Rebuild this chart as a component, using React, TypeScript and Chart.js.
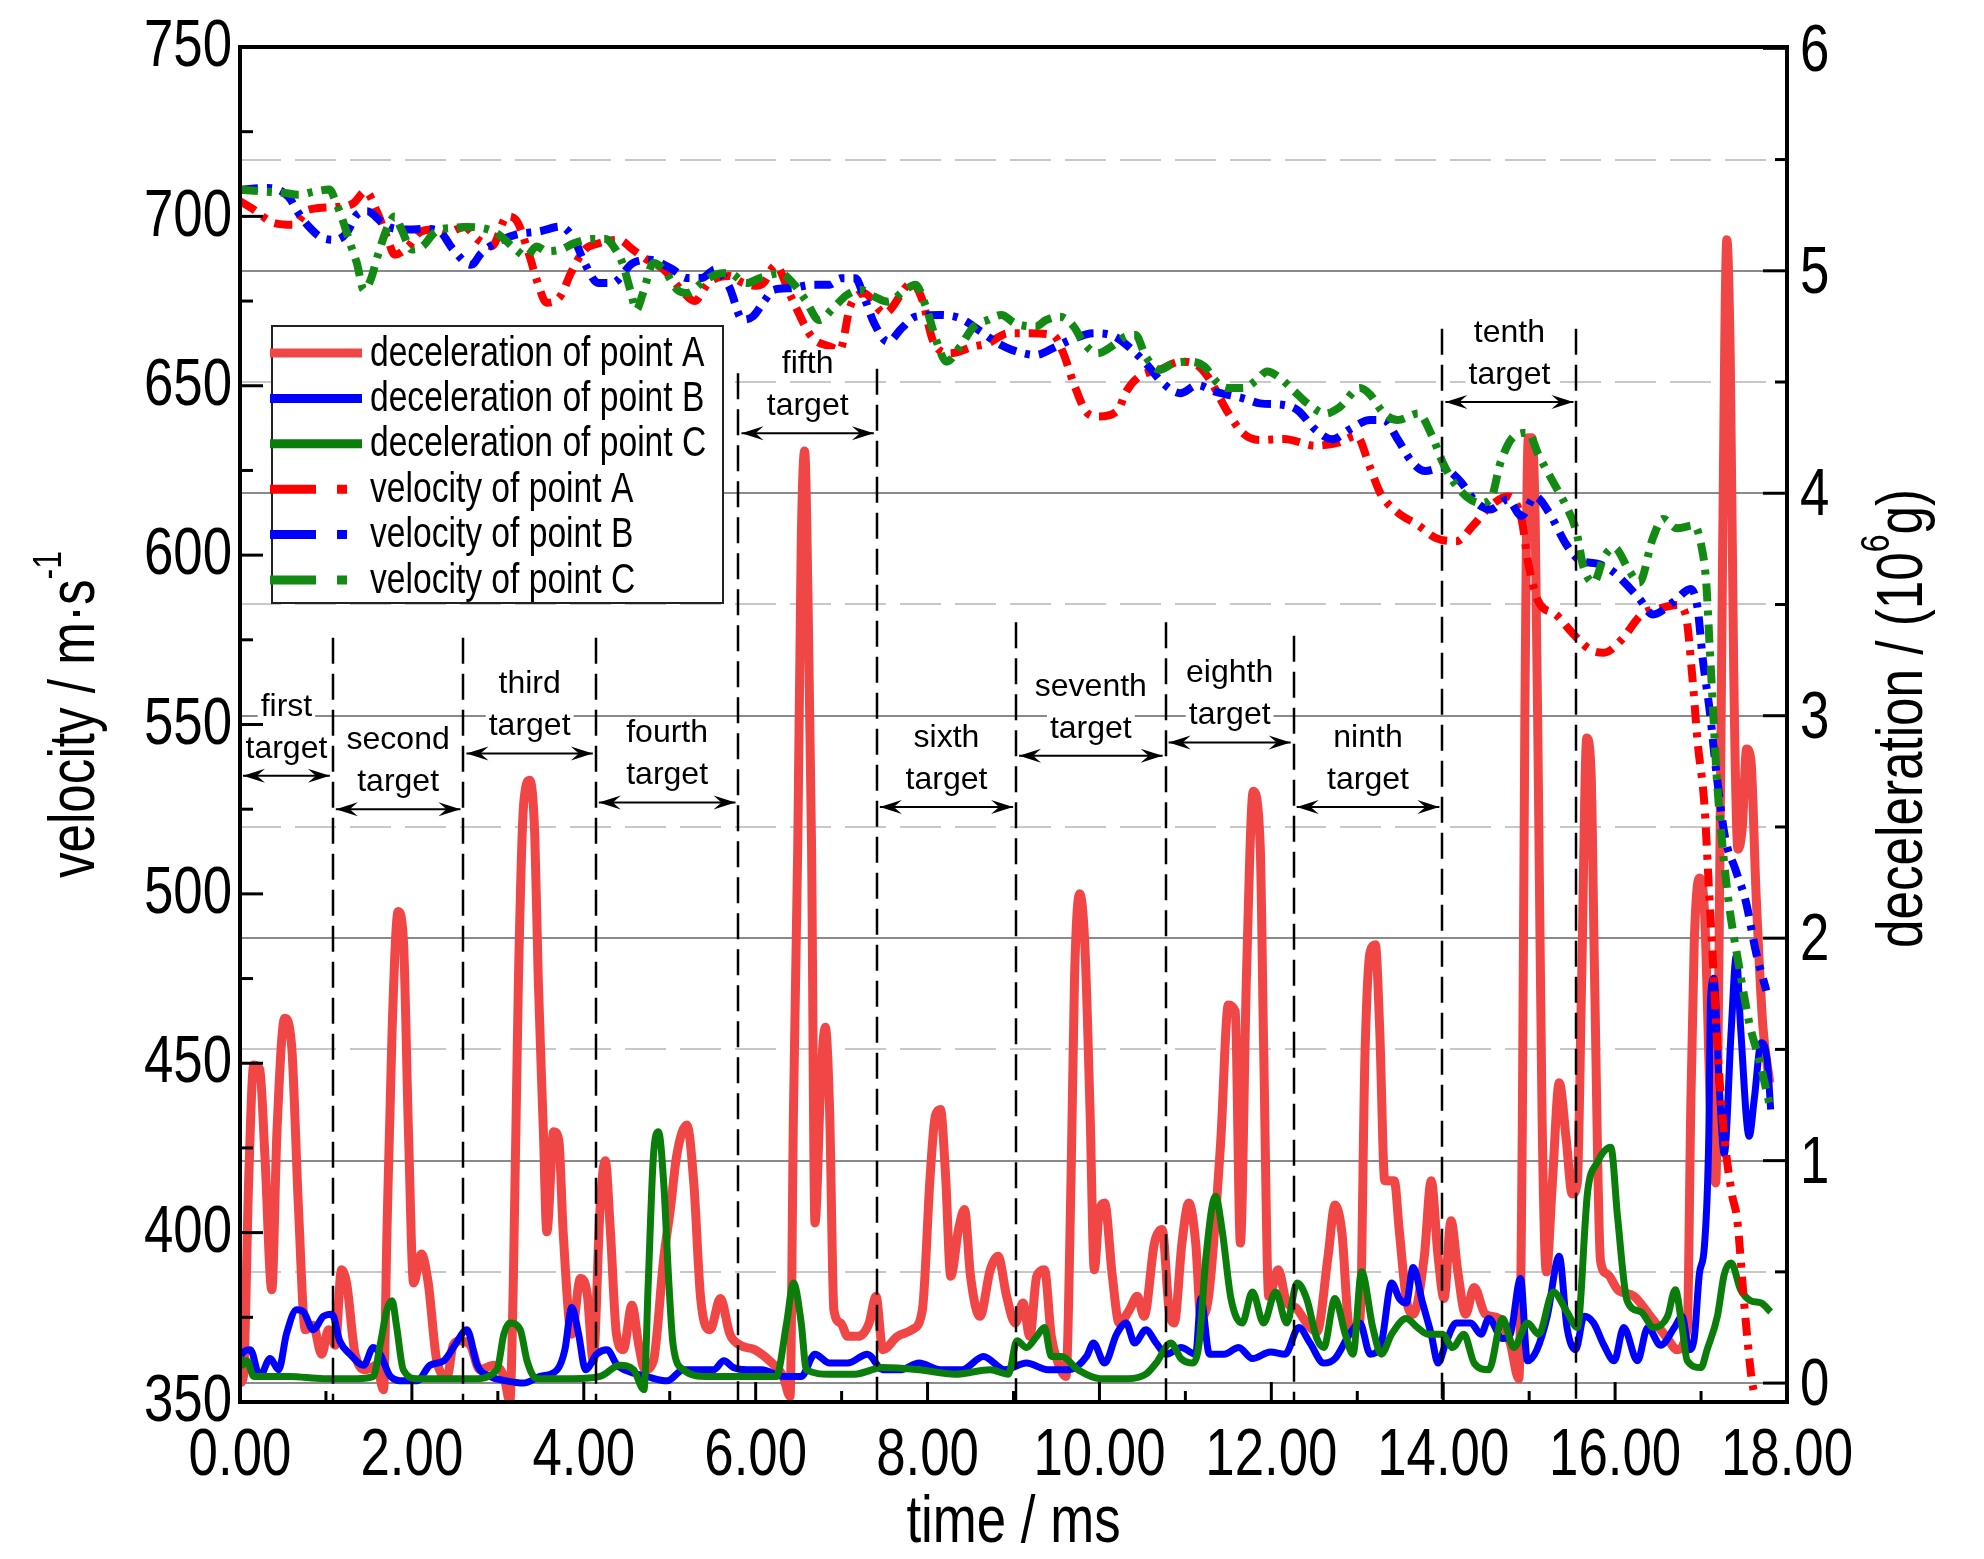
import React, { useEffect, useRef } from 'react';
import { Chart, registerables } from 'chart.js';

Chart.register(...registerables);

// axis ticks
const TIME_TICKS = [0, 2, 4, 6, 8, 10, 12, 14, 16, 18];
const TIME_MINOR = [1, 3, 5, 7, 9, 11, 13, 15, 17];
const VEL_TICKS = [350, 400, 450, 500, 550, 600, 650, 700, 750];
const VEL_MINOR = [375, 425, 475, 525, 575, 625, 675, 725];
const DEC_TICKS = [0, 1, 2, 3, 4, 5, 6];
const DEC_HALF = [0.5, 1.5, 2.5, 3.5, 4.5, 5.5];

const SERIES_LABELS = [
  'deceleration of point A',
  'deceleration of point B',
  'deceleration of point C',
  'velocity of point A',
  'velocity of point B',
  'velocity of point C',
];

// targets: edges in ms, top of each dashed edge line and arrow level (10^6 g axis)
const TARGET_NAMES = ['first', 'second', 'third', 'fourth', 'fifth', 'sixth', 'seventh', 'eighth', 'ninth', 'tenth'];
const TARGET_EDGES = [0, 1.08, 2.6, 4.14, 5.8, 7.41, 9.03, 10.77, 12.26, 13.99, 15.55];
const EDGE_TOPS = [3.35, 3.35, 3.35, 4.54, 4.56, 3.42, 3.42, 3.36, 4.74, 4.74];
const ARROW_LEVELS = [2.73, 2.58, 2.83, 2.61, 4.27, 2.59, 2.82, 2.88, 2.59, 4.41];

// velocity, m/s  [time ms, value]
const VEL_A = [
  [0, 704.5], [0.16, 702.0], [0.4, 698.0], [0.62, 697.5], [0.8, 702.0], [1.2, 702.9], [1.32, 703.9], [1.46, 707.4],
  [1.6, 701.0], [1.72, 693.1], [1.8, 688.7], [1.96, 691.2], [2.08, 695.1], [2.24, 696.1], [2.4, 695.1], [2.61, 696.9],
  [2.77, 693.1], [2.93, 691.2], [3.11, 700.0], [3.21, 699.0], [3.37, 688.2], [3.45, 681.4], [3.57, 674.5], [3.73, 676.5],
  [3.85, 683.3], [4.01, 690.2], [4.13, 691.7], [4.41, 693.1], [4.57, 690.2], [4.73, 687.3], [4.93, 684.3], [5.13, 678.4],
  [5.29, 675.0], [5.45, 680.4], [5.69, 682.4], [5.85, 680.4], [6.01, 679.5], [6.09, 680.3], [6.23, 685.5], [6.41, 676.3],
  [6.65, 664.5], [6.86, 661.6], [6.98, 660.6], [7.1, 673.4], [7.26, 677.3], [7.5, 671.4], [7.82, 680.3], [7.94, 675.3],
  [8.06, 663.5], [8.26, 659.6], [8.54, 661.6], [8.7, 662.5], [8.94, 665.5], [9.18, 665.5], [9.46, 665.0], [9.58, 659.6],
  [9.7, 650.7], [9.86, 641.9], [9.98, 640.9], [10.22, 642.9], [10.3, 647.8], [10.46, 652.7], [10.7, 654.7], [10.94, 657.1],
  [11.1, 656.6], [11.26, 652.7], [11.5, 641.9], [11.67, 636.0], [11.87, 634.0], [12.15, 634.3], [12.51, 632.3], [12.79, 633.3],
  [12.99, 635.2], [13.15, 625.8], [13.27, 618.2], [13.47, 612.6], [13.71, 608.8], [13.91, 605.1], [14.15, 604.1], [14.35, 608.8],
  [14.55, 614.5], [14.75, 617.3], [14.91, 610.7], [14.99, 597.5], [15.11, 586.2], [15.31, 582.5], [15.51, 576.8], [15.71, 572.1],
  [15.87, 571.2], [16.07, 574.9], [16.31, 582.5], [16.52, 584.3], [16.72, 585.3], [16.82, 582.5], [16.9, 563.6], [16.96, 544.8],
  [17.04, 526.0], [17.08, 507.2], [17.14, 478.9], [17.2, 450.7], [17.28, 426.2], [17.36, 411.2], [17.42, 403.9], [17.5, 379.6],
  [17.58, 358.5], [17.62, 352.0],
];

const VEL_B = [
  [0, 707.9], [0.32, 708.4], [0.56, 705.9], [0.68, 701.0], [0.8, 697.0], [0.96, 693.6], [1.12, 693.1], [1.24, 695.1],
  [1.36, 700.5], [1.48, 701.5], [1.64, 698.5], [1.76, 696.6], [1.96, 696.1], [2.16, 696.3], [2.32, 695.6], [2.48, 690.2],
  [2.69, 685.7], [2.81, 689.2], [2.97, 692.1], [3.21, 694.6], [3.49, 695.6], [3.73, 697.0], [3.89, 693.1], [4.01, 686.2],
  [4.17, 680.3], [4.33, 680.3], [4.57, 686.2], [4.77, 687.2], [5.01, 684.7], [5.21, 681.8], [5.37, 681.8], [5.53, 684.3],
  [5.69, 679.3], [5.85, 669.5], [5.97, 670.5], [6.1, 675.0], [6.21, 678.3], [6.41, 678.8], [6.65, 679.8], [6.86, 679.8],
  [6.99, 681.7], [7.16, 681.7], [7.26, 676.3], [7.38, 668.4], [7.54, 663.0], [7.7, 667.0], [7.86, 670.4], [8.14, 670.9],
  [8.38, 669.9], [8.62, 666.0], [8.82, 662.5], [8.98, 660.6], [9.26, 659.1], [9.46, 661.1], [9.66, 663.5], [9.94, 665.5],
  [10.18, 664.5], [10.38, 660.6], [10.54, 656.6], [10.74, 650.7], [10.94, 647.8], [11.14, 650.2], [11.34, 648.3], [11.67, 646.3],
  [11.87, 644.8], [12.15, 644.3], [12.31, 642.7], [12.51, 637.1], [12.71, 634.2], [12.91, 637.1], [13.15, 639.9], [13.31, 639.9],
  [13.47, 634.2], [13.63, 627.7], [13.79, 624.8], [13.99, 625.8], [14.19, 622.0], [14.39, 615.4], [14.55, 613.5], [14.75, 616.4],
  [14.91, 611.6], [15.07, 617.3], [15.23, 612.6], [15.43, 603.2], [15.59, 598.5], [15.79, 597.5], [15.95, 595.6], [16.11, 591.9],
  [16.28, 587.2], [16.44, 582.5], [16.68, 586.2], [16.88, 590.0], [16.96, 584.3], [17.02, 569.3], [17.1, 554.2], [17.18, 535.4],
  [17.28, 516.6], [17.4, 507.2], [17.52, 497.8], [17.64, 482.7], [17.76, 471.4],
];

const VEL_C = [
  [0, 707.9], [0.24, 707.4], [0.52, 706.9], [0.68, 706.4], [0.88, 707.4], [1.04, 707.9], [1.12, 703.9], [1.2, 698.5],
  [1.28, 692.1], [1.36, 686.2], [1.44, 678.3], [1.52, 681.3], [1.6, 688.2], [1.72, 697.0], [1.8, 700.0], [1.88, 696.1],
  [2.0, 690.2], [2.12, 691.1], [2.28, 695.6], [2.48, 696.6], [2.65, 696.9], [2.89, 696.1], [3.01, 694.6], [3.21, 690.2],
  [3.33, 688.2], [3.45, 691.1], [3.57, 689.7], [3.73, 690.2], [3.89, 692.1], [4.09, 693.3], [4.25, 693.3], [4.37, 690.2],
  [4.45, 686.2], [4.55, 677.4], [4.61, 672.4], [4.69, 677.4], [4.81, 686.2], [4.93, 684.3], [5.09, 678.3], [5.21, 677.4],
  [5.37, 680.3], [5.53, 682.8], [5.69, 683.3], [5.89, 680.3], [6.05, 681.8], [6.29, 683.2], [6.45, 679.8], [6.58, 675.3],
  [6.74, 669.4], [6.9, 672.9], [7.06, 676.8], [7.22, 678.3], [7.38, 676.3], [7.54, 674.8], [7.74, 678.3], [7.86, 679.8],
  [7.98, 673.4], [8.1, 663.5], [8.22, 657.1], [8.38, 661.6], [8.54, 667.5], [8.7, 669.4], [8.86, 670.9], [9.02, 668.4],
  [9.26, 667.5], [9.38, 669.4], [9.54, 670.4], [9.7, 667.5], [9.82, 662.5], [9.98, 659.6], [10.14, 661.6], [10.3, 664.5],
  [10.42, 665.0], [10.54, 658.6], [10.7, 654.7], [10.86, 656.6], [11.06, 657.1], [11.22, 655.7], [11.38, 650.7], [11.5, 649.3],
  [11.67, 649.3], [11.83, 651.7], [11.95, 654.2], [12.11, 652.1], [12.27, 648.3], [12.43, 644.6], [12.63, 641.8], [12.79, 643.6],
  [13.03, 649.3], [13.15, 647.4], [13.31, 641.8], [13.47, 639.9], [13.71, 641.8], [13.87, 635.2], [13.99, 627.6], [14.11, 622.0],
  [14.27, 617.3], [14.43, 615.4], [14.55, 616.4], [14.67, 627.6], [14.83, 635.2], [14.99, 636.1], [15.11, 629.5], [15.27, 622.0],
  [15.43, 614.5], [15.55, 606.9], [15.63, 596.6], [15.75, 591.9], [15.87, 599.4], [15.99, 602.2], [16.16, 595.6], [16.28, 591.9],
  [16.44, 605.1], [16.56, 610.7], [16.72, 607.9], [16.92, 608.8], [17.0, 603.2], [17.06, 591.9], [17.1, 573.1], [17.14, 554.2],
  [17.18, 535.4], [17.24, 516.6], [17.32, 497.8], [17.44, 478.9], [17.56, 462.0], [17.68, 450.7], [17.8, 437.5],
];

// deceleration, 10^6 g  [time ms, value]
const DEC_A = [
  [0, 0.0], [0.04, 0.03], [0.1, 0.9], [0.16, 1.43], [0.23, 1.41], [0.29, 1.02], [0.37, 0.42], [0.43, 1.13], [0.52, 1.64],
  [0.6, 1.52], [0.68, 0.79], [0.76, 0.24], [0.85, 0.26], [0.95, 0.13], [1.03, 0.24], [1.11, 0.17], [1.18, 0.51], [1.24, 0.45],
  [1.34, 0.13], [1.47, 0.06], [1.59, 0.08], [1.67, -0.03], [1.71, 0.68], [1.77, 1.59], [1.84, 2.12], [1.9, 2.0], [1.96, 1.13],
  [2.02, 0.45], [2.11, 0.58], [2.19, 0.45], [2.29, 0.1], [2.41, 0.03], [2.48, 0.17], [2.56, 0.19], [2.68, 0.17], [2.79, 0.06],
  [2.95, 0.08], [3.07, 0.03], [3.14, -0.08], [3.18, 0.45], [3.24, 1.82], [3.3, 2.6], [3.37, 2.71], [3.43, 2.46], [3.47, 1.82],
  [3.53, 1.13], [3.57, 0.68], [3.65, 1.13], [3.71, 1.09], [3.76, 0.68], [3.86, 0.22], [3.96, 0.47], [4.04, 0.4], [4.11, 0.1],
  [4.19, 0.79], [4.25, 1.0], [4.31, 0.68], [4.38, 0.22], [4.46, 0.15], [4.56, 0.35], [4.64, 0.17], [4.71, 0.06], [4.81, 0.1],
  [4.93, 0.56], [5.01, 0.79], [5.08, 1.02], [5.2, 1.16], [5.28, 0.9], [5.36, 0.38], [5.47, 0.24], [5.59, 0.38], [5.7, 0.22],
  [5.82, 0.17], [5.99, 0.15], [6.19, 0.09], [6.32, 0.03], [6.4, -0.06], [6.44, 1.23], [6.49, 2.42], [6.53, 3.77], [6.57, 4.19],
  [6.61, 3.5], [6.65, 2.42], [6.69, 0.72], [6.76, 1.38], [6.81, 1.6], [6.86, 1.23], [6.91, 0.33], [6.99, 0.27], [7.07, 0.21],
  [7.19, 0.21], [7.32, 0.27], [7.4, 0.39], [7.48, 0.15], [7.65, 0.21], [7.82, 0.24], [7.94, 0.33], [8.03, 0.93], [8.09, 1.2],
  [8.15, 1.23], [8.21, 0.93], [8.27, 0.48], [8.36, 0.69], [8.43, 0.78], [8.5, 0.48], [8.61, 0.3], [8.73, 0.51], [8.82, 0.57],
  [8.92, 0.39], [9.02, 0.27], [9.11, 0.36], [9.19, 0.21], [9.27, 0.48], [9.36, 0.51], [9.44, 0.21], [9.52, 0.09], [9.61, 0.03],
  [9.67, 0.93], [9.71, 1.82], [9.77, 2.2], [9.83, 1.97], [9.89, 1.23], [9.94, 0.51], [10.0, 0.78], [10.06, 0.81], [10.15, 0.48],
  [10.23, 0.27], [10.35, 0.33], [10.44, 0.39], [10.52, 0.3], [10.64, 0.63], [10.73, 0.69], [10.81, 0.33], [10.87, 0.27],
  [10.96, 0.63], [11.04, 0.81], [11.12, 0.63], [11.18, 0.3], [11.27, 0.39], [11.41, 1.08], [11.5, 1.7], [11.58, 1.67],
  [11.64, 0.63], [11.71, 1.82], [11.79, 2.66], [11.87, 2.42], [11.91, 1.52], [11.97, 0.39], [12.08, 0.51], [12.18, 0.36],
  [12.28, 0.34], [12.41, 0.27], [12.53, 0.23], [12.66, 0.57], [12.74, 0.8], [12.82, 0.68], [12.91, 0.25], [13.03, 0.27],
  [13.09, 1.48], [13.15, 1.94], [13.21, 1.97], [13.26, 1.6], [13.32, 0.91], [13.43, 0.91], [13.49, 0.68], [13.57, 0.38],
  [13.65, 0.31], [13.78, 0.57], [13.86, 0.91], [13.94, 0.57], [14.01, 0.38], [14.09, 0.73], [14.17, 0.5], [14.26, 0.31],
  [14.36, 0.43], [14.49, 0.31], [14.65, 0.29], [14.78, 0.18], [14.88, 0.02], [14.92, 1.14], [14.95, 3.0], [14.99, 4.25],
  [15.03, 4.25], [15.07, 3.88], [15.11, 2.59], [15.15, 1.2], [15.2, 0.5], [15.27, 0.9], [15.35, 1.35], [15.43, 1.1],
  [15.5, 0.85], [15.56, 0.9], [15.61, 1.8], [15.67, 2.9], [15.72, 2.75], [15.76, 1.85], [15.83, 0.55], [15.91, 0.49],
  [16.03, 0.42], [16.22, 0.39], [16.41, 0.3], [16.61, 0.2], [16.72, 0.15], [16.84, 0.25], [16.88, 1.23], [16.92, 1.97],
  [16.98, 2.27], [17.04, 2.12], [17.11, 1.23], [17.17, 0.9], [17.21, 1.97], [17.25, 3.7], [17.3, 5.14], [17.34, 4.6],
  [17.38, 3.2], [17.43, 2.4], [17.48, 2.5], [17.53, 2.85], [17.58, 2.8], [17.64, 2.2], [17.72, 1.6], [17.8, 1.35],
];

const DEC_B = [
  [0, 0.1], [0.02, 0.13], [0.12, 0.15], [0.23, 0.03], [0.35, 0.11], [0.45, 0.06], [0.54, 0.22], [0.66, 0.33], [0.74, 0.32],
  [0.85, 0.24], [0.97, 0.3], [1.07, 0.31], [1.16, 0.19], [1.28, 0.13], [1.44, 0.08], [1.55, 0.16], [1.63, 0.13], [1.75, 0.03],
  [1.9, 0.01], [2.06, 0.01], [2.21, 0.08], [2.37, 0.1], [2.5, 0.17], [2.64, 0.24], [2.76, 0.08], [2.91, 0.03], [3.1, 0.01],
  [3.3, 0.0], [3.49, 0.03], [3.69, 0.06], [3.78, 0.15], [3.86, 0.34], [3.94, 0.22], [4.02, 0.06], [4.15, 0.13], [4.27, 0.15],
  [4.39, 0.08], [4.54, 0.05], [4.73, 0.03], [4.97, 0.01], [5.16, 0.06], [5.36, 0.06], [5.51, 0.06], [5.63, 0.1], [5.74, 0.07],
  [5.9, 0.06], [6.07, 0.06], [6.32, 0.03], [6.53, 0.03], [6.69, 0.13], [6.86, 0.09], [7.07, 0.09], [7.3, 0.13], [7.48, 0.06],
  [7.69, 0.06], [7.9, 0.09], [8.15, 0.06], [8.4, 0.06], [8.65, 0.12], [8.9, 0.06], [9.15, 0.09], [9.4, 0.06], [9.65, 0.06],
  [9.85, 0.12], [9.93, 0.18], [10.06, 0.09], [10.2, 0.22], [10.31, 0.27], [10.41, 0.18], [10.54, 0.24], [10.66, 0.18],
  [10.78, 0.13], [10.95, 0.16], [11.12, 0.13], [11.18, 0.38], [11.28, 0.13], [11.45, 0.13], [11.62, 0.16], [11.78, 0.11],
  [11.99, 0.14], [12.16, 0.13], [12.32, 0.25], [12.45, 0.18], [12.61, 0.09], [12.74, 0.11], [12.91, 0.22], [13.03, 0.27],
  [13.15, 0.13], [13.28, 0.18], [13.4, 0.45], [13.49, 0.38], [13.57, 0.36], [13.65, 0.52], [13.76, 0.36], [13.86, 0.22],
  [13.94, 0.09], [14.03, 0.18], [14.15, 0.27], [14.32, 0.27], [14.44, 0.22], [14.53, 0.29], [14.69, 0.2], [14.78, 0.22],
  [14.9, 0.47], [14.98, 0.1], [15.09, 0.15], [15.21, 0.3], [15.35, 0.57], [15.44, 0.25], [15.54, 0.15], [15.64, 0.3],
  [15.75, 0.27], [15.87, 0.17], [15.99, 0.1], [16.1, 0.25], [16.26, 0.1], [16.38, 0.25], [16.53, 0.17], [16.69, 0.25],
  [16.78, 0.3], [16.86, 0.15], [16.92, 0.2], [16.98, 0.49], [17.04, 0.62], [17.09, 1.11], [17.11, 1.72], [17.15, 1.82],
  [17.21, 1.35], [17.27, 1.03], [17.35, 1.58], [17.41, 1.92], [17.46, 1.6], [17.56, 1.11], [17.62, 1.28], [17.7, 1.53],
  [17.77, 1.45], [17.81, 1.23],
];

const DEC_C = [
  [0, 0.12], [0.02, 0.08], [0.08, 0.1], [0.16, 0.03], [0.31, 0.03], [0.58, 0.03], [0.97, 0.02], [1.36, 0.02], [1.55, 0.03],
  [1.63, 0.17], [1.71, 0.33], [1.77, 0.37], [1.82, 0.26], [1.9, 0.06], [2.06, 0.02], [2.33, 0.02], [2.72, 0.02], [2.99, 0.06],
  [3.07, 0.22], [3.14, 0.27], [3.26, 0.24], [3.34, 0.1], [3.45, 0.02], [3.88, 0.02], [4.19, 0.03], [4.42, 0.08], [4.58, 0.06],
  [4.7, -0.03], [4.75, 0.45], [4.81, 1.02], [4.87, 1.13], [4.93, 0.9], [4.99, 0.45], [5.04, 0.17], [5.16, 0.06], [5.43, 0.03],
  [5.74, 0.03], [6.03, 0.03], [6.24, 0.03], [6.36, 0.27], [6.44, 0.45], [6.53, 0.27], [6.59, 0.06], [6.86, 0.04], [7.15, 0.04],
  [7.48, 0.07], [7.9, 0.06], [8.32, 0.04], [8.73, 0.06], [8.94, 0.04], [9.04, 0.19], [9.15, 0.16], [9.27, 0.21], [9.36, 0.25],
  [9.44, 0.12], [9.56, 0.12], [9.75, 0.06], [10.01, 0.02], [10.33, 0.02], [10.54, 0.04], [10.66, 0.09], [10.83, 0.18],
  [10.95, 0.11], [11.08, 0.09], [11.16, 0.18], [11.24, 0.57], [11.35, 0.84], [11.43, 0.68], [11.53, 0.38], [11.66, 0.27],
  [11.78, 0.41], [11.91, 0.27], [12.05, 0.41], [12.18, 0.27], [12.3, 0.45], [12.41, 0.38], [12.53, 0.2], [12.61, 0.16],
  [12.74, 0.38], [12.86, 0.22], [12.95, 0.13], [13.05, 0.5], [13.18, 0.25], [13.28, 0.13], [13.4, 0.22], [13.57, 0.29],
  [13.7, 0.25], [13.82, 0.22], [13.99, 0.22], [14.11, 0.16], [14.24, 0.22], [14.36, 0.09], [14.53, 0.06], [14.69, 0.29],
  [14.82, 0.16], [14.98, 0.27], [15.11, 0.22], [15.28, 0.41], [15.44, 0.32], [15.56, 0.25], [15.68, 0.86], [15.79, 0.99],
  [15.95, 1.06], [16.03, 0.74], [16.14, 0.37], [16.3, 0.32], [16.45, 0.25], [16.61, 0.3], [16.7, 0.42], [16.78, 0.25],
  [16.84, 0.1], [17.0, 0.07], [17.07, 0.15], [17.19, 0.3], [17.27, 0.49], [17.35, 0.54], [17.46, 0.42], [17.58, 0.37],
  [17.7, 0.36], [17.81, 0.32],
];

const SANS = '"Liberation Sans", Arial, sans-serif';
const NARROW_X = 0.8; // horizontal squeeze to mimic a narrow face

const toXY = (pts: number[][]) => pts.map(([x, y]) => ({ x, y }));

const line = (i: number, pts: number[][], color: string, width: number, dashed: boolean, axis: string, order: number) => ({
  label: SERIES_LABELS[i],
  data: toXY(pts),
  borderColor: color,
  backgroundColor: color,
  borderWidth: width,
  borderDash: dashed ? [18, 9, 5, 9] : [],
  borderCapStyle: 'butt',
  borderJoinStyle: 'round',
  cubicInterpolationMode: 'monotone',
  pointRadius: 0,
  fill: false,
  yAxisID: axis,
  order,
});

// narrow text: squeezed horizontally around its anchor
function narrowText(ctx: CanvasRenderingContext2D, txt: string, x: number, y: number, size: number, align: CanvasTextAlign) {
  ctx.save();
  ctx.translate(x, y);
  ctx.scale(NARROW_X, 1);
  ctx.font = `${size}px ${SANS}`;
  ctx.textAlign = align;
  ctx.textBaseline = 'middle';
  ctx.fillStyle = '#000';
  ctx.fillText(txt, 0, 0);
  ctx.restore();
}

function arrowHead(ctx: CanvasRenderingContext2D, x: number, y: number, dir: number) {
  const len = 22, half = 7, notch = 8;
  ctx.beginPath();
  ctx.moveTo(x, y);
  ctx.lineTo(x - dir * len, y - half);
  ctx.lineTo(x - dir * (len - notch), y);
  ctx.lineTo(x - dir * len, y + half);
  ctx.closePath();
  ctx.fill();
}

// rotated (-90deg) title with a superscript part
function drawVerticalTitle(ctx: CanvasRenderingContext2D, cx: number, cy: number, pre: string, sup: string, post: string) {
  const big = `64px ${SANS}`;
  const small = `40px ${SANS}`;
  ctx.save();
  ctx.translate(cx, cy);
  ctx.rotate(-Math.PI / 2);
  ctx.scale(NARROW_X, 1);
  ctx.fillStyle = '#000';
  ctx.textBaseline = 'middle';
  ctx.textAlign = 'left';
  ctx.font = big;
  const w1 = ctx.measureText(pre).width;
  const w3 = ctx.measureText(post).width;
  ctx.font = small;
  const w2 = ctx.measureText(sup).width;
  let x = -(w1 + w2 + w3) / 2;
  ctx.font = big;
  ctx.fillText(pre, x, 0);
  x += w1;
  ctx.font = small;
  ctx.fillText(sup, x, -26);
  x += w2;
  ctx.font = big;
  ctx.fillText(post, x, 0);
  ctx.restore();
}

const backdrop = {
  id: 'backdrop',
  beforeDatasetsDraw(chart: any) {
    const { ctx, chartArea: a, scales } = chart;
    const d = scales.y2;
    ctx.save();
    ctx.lineWidth = 2;
    ctx.strokeStyle = '#c8c8c8';
    ctx.setLineDash([41, 14]);
    DEC_HALF.forEach((v) => {
      const y = Math.round(d.getPixelForValue(v));
      ctx.beginPath();
      ctx.moveTo(a.left, y);
      ctx.lineTo(a.right, y);
      ctx.stroke();
    });
    ctx.setLineDash([]);
    ctx.strokeStyle = '#8a8a8a';
    DEC_TICKS.filter((v) => v < 6).forEach((v) => {
      const y = Math.round(d.getPixelForValue(v));
      ctx.beginPath();
      ctx.moveTo(a.left, y);
      ctx.lineTo(a.right, y);
      ctx.stroke();
    });
    ctx.restore();
  },
};

const overlay = {
  id: 'overlay',
  afterDatasetsDraw(chart: any) {
    const { ctx, chartArea: a, scales } = chart;
    const xs = scales.x;
    const vs = scales.y;
    const ds = scales.y2;
    ctx.save();

    // target edges
    ctx.strokeStyle = '#000';
    ctx.lineWidth = 2.5;
    ctx.setLineDash([26, 10]);
    for (let i = 1; i < TARGET_EDGES.length; i++) {
      const x = Math.round(xs.getPixelForValue(TARGET_EDGES[i]));
      ctx.beginPath();
      ctx.moveTo(x, ds.getPixelForValue(EDGE_TOPS[i - 1]));
      ctx.lineTo(x, a.bottom);
      ctx.stroke();
    }
    ctx.setLineDash([]);

    // arrows and labels
    ctx.fillStyle = '#000';
    ctx.lineWidth = 2;
    ctx.font = `32px ${SANS}`;
    ctx.textAlign = 'center';
    ctx.textBaseline = 'middle';
    TARGET_NAMES.forEach((name, i) => {
      const x0 = xs.getPixelForValue(TARGET_EDGES[i]) + 3;
      const x1 = xs.getPixelForValue(TARGET_EDGES[i + 1]) - 3;
      const y = ds.getPixelForValue(ARROW_LEVELS[i]);
      ctx.beginPath();
      ctx.moveTo(x0, y);
      ctx.lineTo(x1, y);
      ctx.stroke();
      arrowHead(ctx, x0, y, -1);
      arrowHead(ctx, x1, y, 1);
      const cx = (x0 + x1) / 2;
      [[name, y - 69], ['target', y - 27]].forEach(([txt, ty]: any) => {
        const w = ctx.measureText(txt).width;
        ctx.fillStyle = '#fff';
        ctx.fillRect(cx - w / 2 - 3, ty - 15, w + 6, 28);
        ctx.fillStyle = '#000';
        ctx.fillText(txt, cx, ty);
      });
    });

    // ticks (inward)
    ctx.strokeStyle = '#000';
    ctx.lineWidth = 3;
    const tick = (x0: number, y0: number, x1: number, y1: number) => {
      ctx.beginPath();
      ctx.moveTo(x0, y0);
      ctx.lineTo(x1, y1);
      ctx.stroke();
    };
    VEL_TICKS.forEach((v) => { const y = vs.getPixelForValue(v); tick(a.left, y, a.left + 23, y); });
    VEL_MINOR.forEach((v) => { const y = vs.getPixelForValue(v); tick(a.left, y, a.left + 13, y); });
    DEC_TICKS.forEach((v) => { const y = ds.getPixelForValue(v); tick(a.right, y, a.right - 24, y); });
    DEC_HALF.forEach((v) => { const y = ds.getPixelForValue(v); tick(a.right, y, a.right - 12, y); });
    TIME_TICKS.forEach((v) => { const x = xs.getPixelForValue(v); tick(x, a.bottom, x, a.bottom - 20); });
    TIME_MINOR.forEach((v) => { const x = xs.getPixelForValue(v); tick(x, a.bottom, x, a.bottom - 11); });

    // frame
    ctx.lineWidth = 4;
    ctx.strokeRect(a.left, a.top, a.right - a.left, a.bottom - a.top);

    // tick labels
    VEL_TICKS.forEach((v) => narrowText(ctx, String(v), a.left - 8, vs.getPixelForValue(v) + 1, 66, 'right'));
    DEC_TICKS.forEach((v) => narrowText(ctx, String(v), a.right + 13, ds.getPixelForValue(v) + 4, 66, 'left'));
    TIME_TICKS.forEach((v) => narrowText(ctx, v.toFixed(2), xs.getPixelForValue(v), a.bottom + 55, 66, 'center'));

    // legend
    const lx = a.left + 32;
    const ly = a.top + 279;
    const lw = 451;
    const lh = 277;
    ctx.fillStyle = '#fff';
    ctx.fillRect(lx, ly, lw, lh);
    ctx.lineWidth = 2;
    ctx.strokeStyle = '#222';
    ctx.strokeRect(lx, ly, lw, lh);
    chart.data.datasets.forEach((ds2: any, i: number) => {
      const y = ly + 27 + i * 45.4;
      ctx.strokeStyle = ds2.borderColor;
      ctx.lineWidth = 9;
      ctx.setLineDash(ds2.borderDash.length ? [46, 21, 10, 200] : []);
      ctx.beginPath();
      ctx.moveTo(lx - 2, y);
      ctx.lineTo(lx + 90, y);
      ctx.stroke();
      ctx.setLineDash([]);
      narrowText(ctx, ds2.label, lx + 98, y + 1, 42, 'left');
    });

    // axis titles
    drawVerticalTitle(ctx, 76, (a.top + a.bottom) / 2 - 10, 'velocity / m\u00b7s', '-1', '');
    drawVerticalTitle(ctx, 1904, (a.top + a.bottom) / 2 - 6, 'deceleration / (10', '6', 'g)');
    narrowText(ctx, 'time / ms', (a.left + a.right) / 2, 1524, 66, 'center');

    ctx.restore();
  },
};

const App: React.FC = () => {
  const canvasRef = useRef<HTMLCanvasElement>(null);
  const chartRef = useRef<Chart | null>(null);

  useEffect(() => {
    if (!canvasRef.current) return;
    if (chartRef.current) chartRef.current.destroy();

    const hidden = { display: false };
    chartRef.current = new Chart(canvasRef.current, {
      type: 'line',
      data: {
        datasets: [
          line(0, DEC_A, '#f04646', 9, false, 'y2', 10),
          line(1, DEC_B, '#0000ff', 7, false, 'y2', 9),
          line(2, DEC_C, '#0b7d0b', 7, false, 'y2', 8),
          line(3, VEL_A, '#ff0000', 8, true, 'y', 7),
          line(4, VEL_B, '#0000ff', 8, true, 'y', 6),
          line(5, VEL_C, '#138a13', 8, true, 'y', 5),
        ] as any,
      },
      options: {
        animation: false,
        responsive: true,
        maintainAspectRatio: false,
        events: [],
        layout: { padding: { top: 47, left: 0, right: 0, bottom: 0 } },
        plugins: { legend: { display: false }, tooltip: { enabled: false } },
        scales: {
          x: {
            type: 'linear',
            min: 0,
            max: 18,
            grid: { display: false, drawTicks: false },
            border: hidden,
            ticks: hidden,
            afterFit: (s: any) => { s.height = 157; },
          },
          y: {
            type: 'linear',
            position: 'left',
            min: 350,
            max: 750,
            grid: { display: false, drawTicks: false },
            border: hidden,
            ticks: hidden,
            afterFit: (s: any) => { s.width = 240; },
          },
          y2: {
            type: 'linear',
            position: 'right',
            min: -0.085,
            max: 6.006,
            grid: { display: false, drawTicks: false },
            border: hidden,
            ticks: hidden,
            afterFit: (s: any) => { s.width = 197; },
          },
        },
      } as any,
      plugins: [backdrop, overlay],
    });

    return () => {
      if (chartRef.current) {
        chartRef.current.destroy();
        chartRef.current = null;
      }
    };
  }, []);

  return (
    <div style={{ position: 'absolute', left: 0, top: 0, width: '1984px', height: '1559px', background: '#fff' }}>
      <canvas ref={canvasRef}></canvas>
    </div>
  );
};

export default App;
